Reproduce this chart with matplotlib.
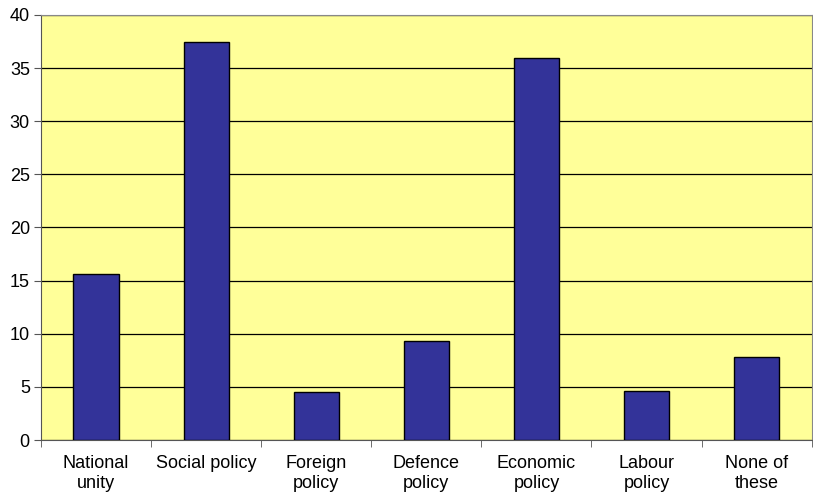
import matplotlib
matplotlib.use('Agg')
import matplotlib.pyplot as plt
import numpy as np

categories = ['National\nunity', 'Social policy', 'Foreign\npolicy', 'Defence\npolicy',
              'Economic\npolicy', 'Labour\npolicy', 'None of\nthese']
values = [15.6, 37.4, 4.5, 9.3, 35.9, 4.6, 7.8]
y_ticks = [0, 5, 10, 15, 20, 25, 30, 35, 40]

plt.rcParams['font.family'] = ['Liberation Sans', 'DejaVu Sans']

fig = plt.figure(figsize=(8.13, 4.95), dpi=100)
ax = fig.add_axes([0.0504, 0.111, 0.948, 0.859])
ax.set_facecolor('#FFFF99')

x = np.arange(len(categories))
ax.bar(x, values, width=0.41, color='#333399', edgecolor='black', linewidth=1.0, zorder=3)

ax.set_xlim(-0.5, len(categories) - 0.5)
ax.set_ylim(0, 40)
ax.set_yticks(y_ticks)
ax.yaxis.grid(True, color='black', linewidth=0.9, zorder=1)
ax.set_axisbelow(True)

# labels centred on bars, tick marks between categories
ax.set_xticks(x)
ax.set_xticklabels(categories, fontsize=13, linespacing=1.2)
ax.tick_params(axis='x', which='major', length=0, pad=11)
ax.set_xticks(np.arange(-0.5, len(categories)), minor=True)
ax.tick_params(axis='x', which='minor', length=5, direction='out', color='#555555')
ax.tick_params(axis='y', labelsize=13, length=5, pad=3, direction='out', color='#555555')

for side in ['top', 'right']:
    ax.spines[side].set_color('#888888')
for side in ['left', 'bottom']:
    ax.spines[side].set_color('#555555')

fig.savefig('out.png', dpi=100)
